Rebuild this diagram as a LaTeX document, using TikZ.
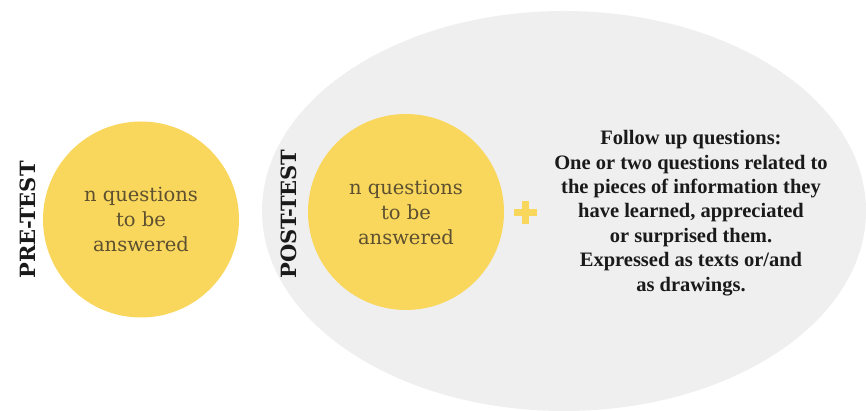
\documentclass[tikz,border=0pt]{standalone}
\usepackage{fontspec}
\setmainfont{DejaVu Serif}
\newfontfamily\tnr{Liberation Serif}
\usetikzlibrary{shapes.geometric}
\definecolor{circfill}{HTML}{F9D65C}
\definecolor{ellfill}{HTML}{EFEFEF}
\definecolor{circtext}{HTML}{5C5030}
\definecolor{labeltext}{HTML}{1A1A1A}
\begin{document}
\begin{tikzpicture}[x=1pt,y=1pt,
  circ/.style={circle, fill=circfill, minimum size=196pt, inner sep=0pt, align=center,
    text=circtext, font=\fontsize{19.5}{25}\selectfont},
  sidelabel/.style={rotate=90, inner sep=0pt, text=labeltext, font=\fontsize{21}{24}\selectfont\bfseries},
  followtext/.style={align=center, inner sep=0pt, text=labeltext, font=\tnr\fontsize{20.5}{24.4}\selectfont\bfseries}]
\useasboundingbox (0,0) rectangle (866,411);
\node[ellipse, fill=ellfill, minimum width=604pt, minimum height=400pt, inner sep=0pt] (post) at (564,200) {};
\node[circ] (prec) at (141,191.5) {n questions\\to be\\answered};
\node[sidelabel] (prelab) at (28,191) {PRE-TEST};
\node[circ] (postc) at (406,199) {n questions\\to be\\answered};
\node[sidelabel] (postlab) at (289,197) {POST-TEST};
\coordinate (plus) at (525,198);
\fill[circfill] ([xshift=-11.5pt,yshift=-3.5pt]plus) rectangle ([xshift=11.5pt,yshift=3.5pt]plus);
\fill[circfill] ([xshift=-3.5pt,yshift=-11.5pt]plus) rectangle ([xshift=3.5pt,yshift=11.5pt]plus);
\node[followtext] (follow) at (691,198) {Follow up questions:\\One or two questions related to\\the pieces of information they\\have learned, appreciated\\or surprised them.\\Expressed as texts or/and\\as drawings.};
\end{tikzpicture}
\end{document}
